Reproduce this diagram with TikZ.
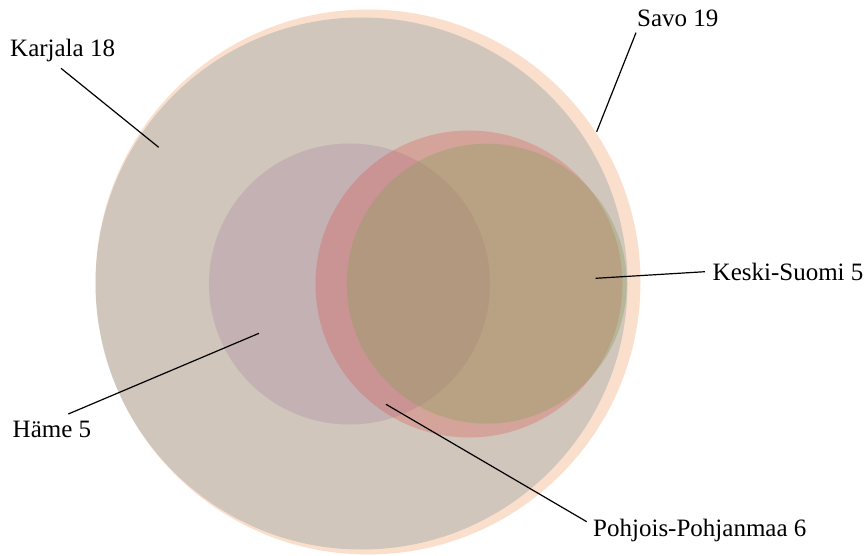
\documentclass[tikz,border=0pt]{standalone}
\usepackage{fontspec}
\setmainfont{Liberation Serif}
\definecolor{savoC}{RGB}{243,131,59}
\definecolor{karC}{RGB}{80,124,138}
\definecolor{hameC}{RGB}{157,115,153}
\definecolor{pohC}{RGB}{225,63,57}
\definecolor{kesC}{RGB}{137,160,91}
\begin{document}
\begin{tikzpicture}[x=1pt,y=-1pt,
  setdisc/.style={circle,inner sep=0pt,outer sep=0pt,draw=none},
  lbl/.style={anchor=base west,inner sep=0pt,font=\fontsize{25}{29}\selectfont,text=black},
  leader/.style={draw=black,line width=1.2pt}]
\useasboundingbox (0,0) rectangle (865,556);
\fill[white] (0,0) rectangle (865,556);
% set circles
\node[setdisc,fill=savoC,fill opacity=0.25,minimum size=545pt] (savo) at (368,282) {};
\node[setdisc,fill=karC,fill opacity=0.25,minimum size=532pt] (karjala) at (361.5,283.5) {};
\node[setdisc,fill=hameC,fill opacity=0.25,minimum size=281pt] (hame) at (349.5,284) {};
\node[setdisc,fill=pohC,fill opacity=0.25,minimum size=307pt] (pohjois) at (469,284) {};
\node[setdisc,fill=kesC,fill opacity=0.37,minimum size=280pt] (keski) at (486.7,283.7) {};
% labels
\node[lbl] (lkar) at (10,57) {Karjala 18};
\node[lbl] (lsavo) at (637,27) {Savo 19};
\node[lbl] (lkes) at (712.5,280.5) {Keski-Suomi 5};
\node[lbl] (lhame) at (12.5,437.5) {Häme 5};
\node[lbl] (lpoh) at (593,536.5) {Pohjois-Pohjanmaa 6};
% leader end points
\coordinate (ckar1) at (61,68.3);
\coordinate (ckar2) at (158.7,147.3);
\coordinate (csavo1) at (636,32.7);
\coordinate (csavo2) at (596.7,131.7);
\coordinate (ckes1) at (705,271.7);
\coordinate (ckes2) at (595.7,278.3);
\coordinate (chame1) at (68.3,414);
\coordinate (chame2) at (259,333.3);
\coordinate (cpoh1) at (586.7,521.7);
\coordinate (cpoh2) at (386,404.3);
\draw[leader] (ckar1) -- (ckar2);
\draw[leader] (csavo1) -- (csavo2);
\draw[leader] (ckes1) -- (ckes2);
\draw[leader] (chame1) -- (chame2);
\draw[leader] (cpoh1) -- (cpoh2);
\end{tikzpicture}
\end{document}
